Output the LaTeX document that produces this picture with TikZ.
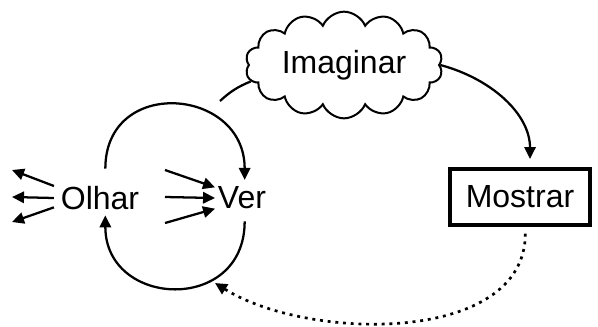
\documentclass[tikz,border=0pt]{standalone}
\usepackage{fontspec}
\setmainfont{Liberation Sans}
\usetikzlibrary{arrows.meta,shapes.symbols}

\begin{document}
\begin{tikzpicture}[x=0.75pt,y=0.75pt,
  palavra/.style={font=\fontsize{24}{27}\selectfont,inner sep=2pt},
  seta/.style={line width=1.7pt,-{Triangle[length=9pt,width=8.5pt]}},
  linha/.style={line width=1.7pt}]
\useasboundingbox (0,0) rectangle (598,-326);

\node[palavra] (olhar) at (100,-198) {Olhar};
\node[palavra] (ver) at (242,-198) {Ver};
\node[palavra,draw,line width=3pt,minimum width=105pt,minimum height=42pt] (mostrar) at (520,-197) {Mostrar};
\node[palavra,cloud,draw,line width=1.5pt,cloud puffs=14,cloud puff arc=135,cloud ignores aspect,
  minimum width=148pt,minimum height=80pt] (imaginar) at (344,-65) {Imaginar};

% pontas soltas
\coordinate (l1) at (12,-170);
\coordinate (l2) at (12,-197);
\coordinate (l3) at (12,-222);
\coordinate (r1) at (165,-170);
\coordinate (r2) at (165,-197);
\coordinate (r3) at (165,-223);
\coordinate (lk) at (220,-101);
\coordinate (volta) at (215,-283);

% Olhar para fora
\draw[seta] ([shift={(-3pt,9pt)}]olhar.west) -- (l1);
\draw[seta] ([xshift=-3pt]olhar.west) -- (l2);
\draw[seta] ([shift={(-3pt,-7pt)}]olhar.west) -- (l3);

% entrando em Ver
\draw[seta] (r1) -- ([yshift=8pt]ver.west);
\draw[seta] (r2) -- (ver.west);
\draw[seta] (r3) -- ([yshift=-8pt]ver.west);

% o laço Olhar - Ver
\draw[seta] ([shift={(4pt,11pt)}]olhar.north) to[out=90,in=90,looseness=1.7] ([shift={(2pt,3pt)}]ver.north);
\draw[seta] ([shift={(2pt,-7pt)}]ver.south) to[out=-90,in=-90,looseness=1.7] ([shift={(4pt,-2pt)}]olhar.south);

% Imaginar
\draw[linha] (imaginar.190) to[bend right=10] (lk);
\draw[seta,shorten >=6pt] (imaginar.east) to[out=-15,in=90] ([xshift=7.5pt]mostrar.north);

% de Mostrar de volta (pontilhado)
\draw[seta,line width=2pt,dash pattern=on 2.2pt off 3.6pt] ([shift={(4pt,-5pt)}]mostrar.south) to[out=-90,in=-32,looseness=0.9] (volta);

\end{tikzpicture}
\end{document}
